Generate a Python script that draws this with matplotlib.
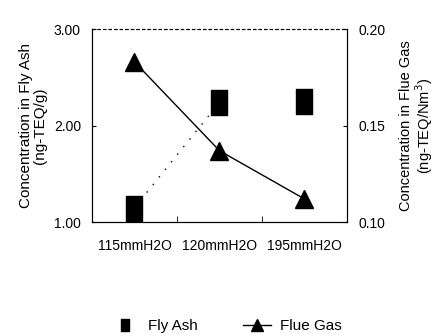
import matplotlib
matplotlib.use("Agg")
import matplotlib.pyplot as plt
from matplotlib.lines import Line2D
from matplotlib.path import Path

plt.rcParams['font.family'] = ['Liberation Sans', 'DejaVu Sans']

categories = ["115mmH2O", "120mmH2O", "195mmH2O"]
fly_ash = [1.15, 2.24, 2.25]
flue_gas = [0.183, 0.137, 0.112]
left_ticks = [1.00, 2.00, 3.00]
left_tick_labels = ["1.00", "2.00", "3.00"]
right_ticks = [0.10, 0.15, 0.20]
right_tick_labels = ["0.10", "0.15", "0.20"]

rect_marker = Path([(-0.65, -1), (0.65, -1), (0.65, 1), (-0.65, 1), (-0.65, -1)],
                   [Path.MOVETO, Path.LINETO, Path.LINETO, Path.LINETO, Path.CLOSEPOLY])

fig = plt.figure(figsize=(4.35, 3.36), dpi=100)
ax = fig.add_axes([0.2115, 0.339, 0.586, 0.5744])
x = list(range(len(categories)))

# faint dotted connector (visible only between first two points in the scan)
ax.plot(x[:2], fly_ash[:2], linestyle=(0, (1, 6)), color='black', linewidth=1.0, zorder=2)
ax.plot(x, fly_ash, linestyle='none',
        marker=rect_marker, markersize=18, markerfacecolor='black', markeredgecolor='black',
        zorder=3)
ax.set_xlim(-0.5, 2.5)
ax.set_ylim(1.0, 3.0)
ax.set_yticks(left_ticks)
ax.set_yticklabels(left_tick_labels)
ax.set_xticks(x)
ax.set_xticklabels(categories)
ax.set_xticks([0.5, 1.5], minor=True)
ax.tick_params(axis='x', which='major', length=0, pad=12, labelsize=10)
ax.tick_params(axis='x', which='minor', direction='in', length=4)
ax.tick_params(axis='y', direction='in', length=3, labelsize=10, pad=8)
ax.set_ylabel("Concentration in Fly Ash\n(ng-TEQ/g)", fontsize=11, labelpad=5, linespacing=1.0)

ax2 = ax.twinx()
ax2.plot(x, flue_gas, linestyle='-', color='black', linewidth=1.0,
         marker='^', markersize=13, markerfacecolor='black', markeredgecolor='black',
         zorder=3)
ax2.set_ylim(0.10, 0.20)
ax2.set_yticks(right_ticks)
ax2.set_yticklabels(right_tick_labels)
ax2.tick_params(axis='y', direction='in', length=3, labelsize=10, pad=8)
ax2.set_ylabel("Concentration in Flue Gas\n(ng-TEQ/Nm$^3$)", fontsize=10.5, labelpad=10,
               linespacing=1.0)

for a in (ax, ax2):
    a.spines['top'].set_linestyle((0, (2, 3)))
    a.spines['top'].set_linewidth(0.8)

handles = [
    Line2D([], [], linestyle='none', marker=rect_marker, markersize=9, color='black'),
    Line2D([], [], linestyle='-', marker='^', markersize=9, color='black', linewidth=1.0),
]
fig.legend(handles, ["Fly Ash", "Flue Gas"], loc='center', bbox_to_anchor=(0.52, 0.03),
           ncol=2, frameon=False, fontsize=11, handlelength=1.8, columnspacing=3.0,
           handletextpad=0.6)

fig.savefig("out.png", dpi=100)
